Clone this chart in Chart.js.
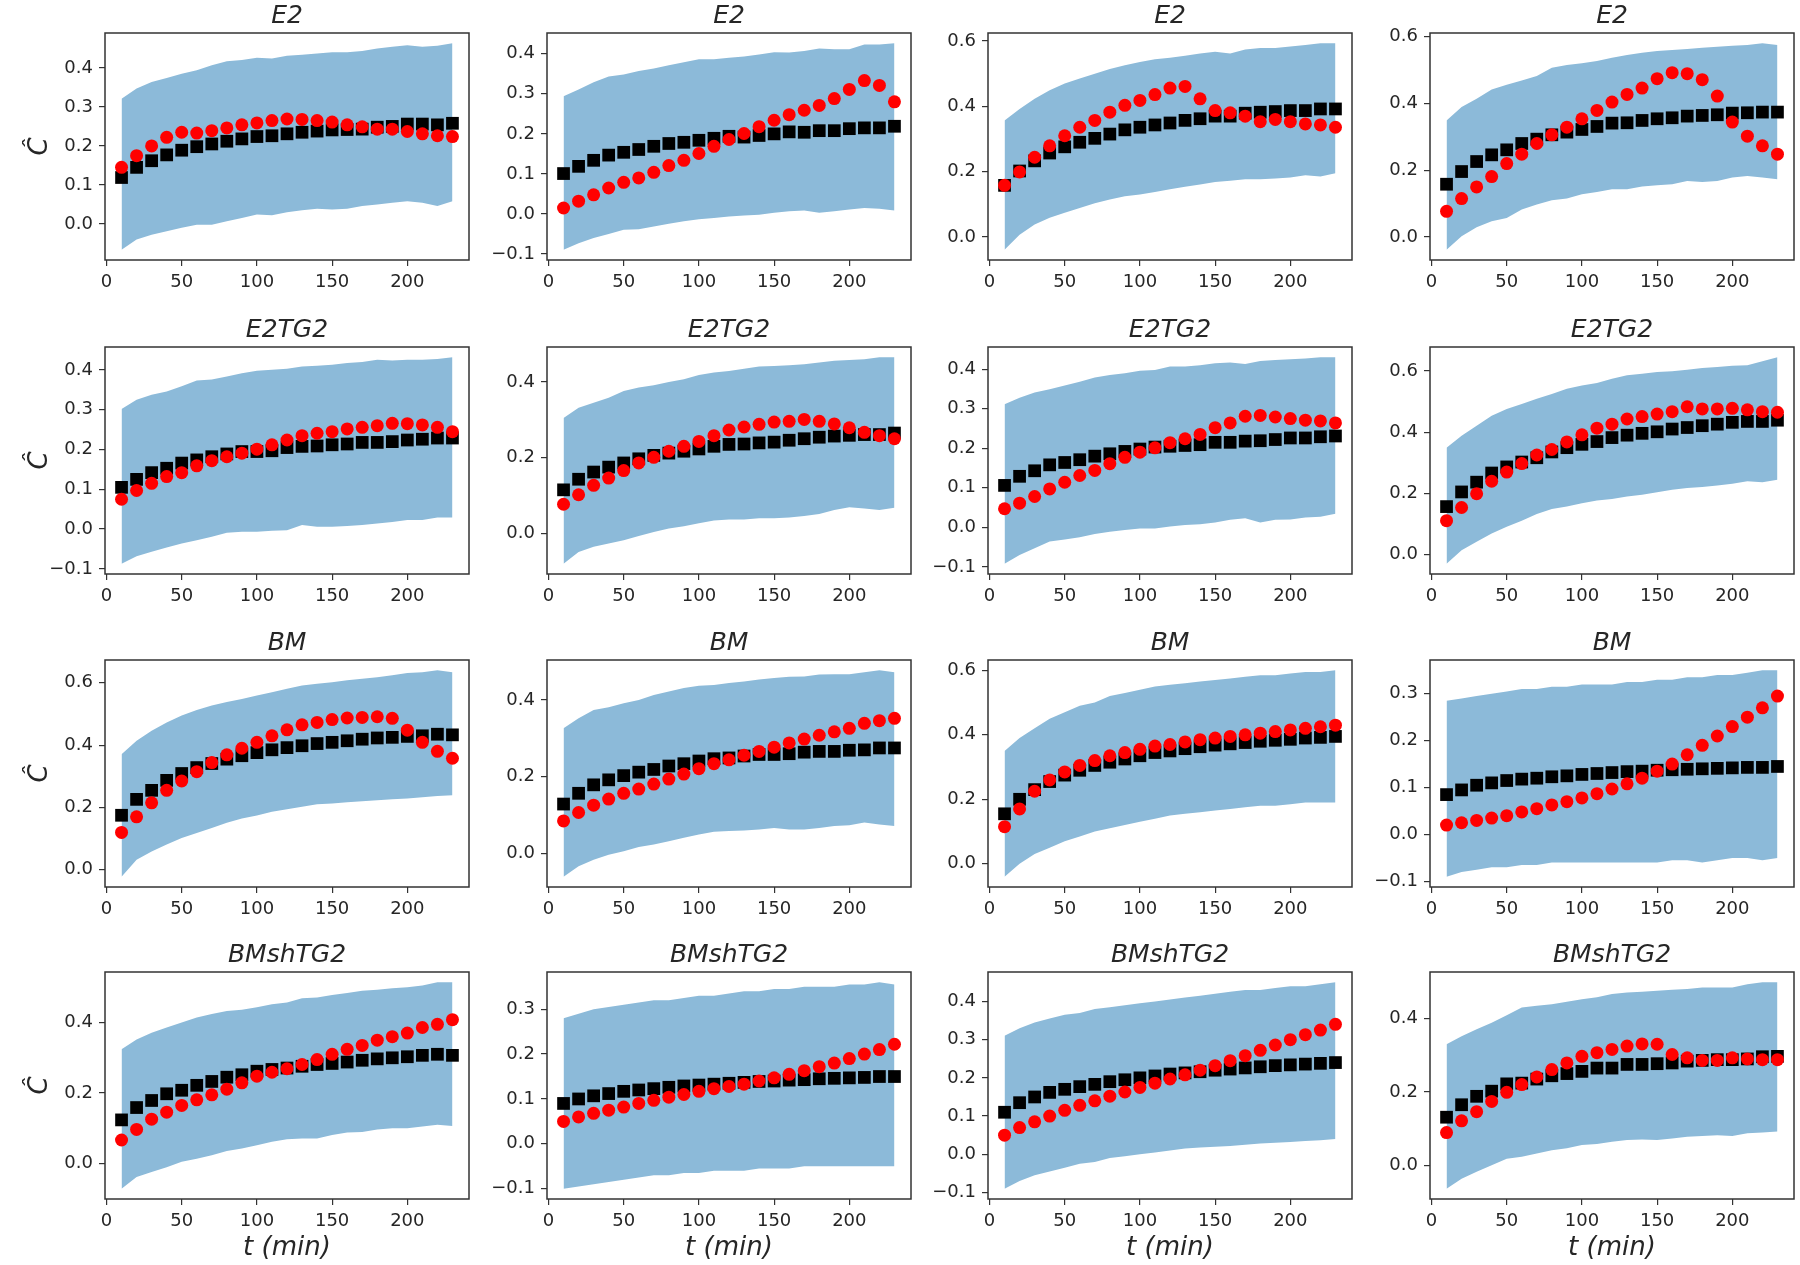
<!DOCTYPE html>
<html>
<head>
<meta charset="utf-8">
<script src="https://cdn.jsdelivr.net/npm/chart.js@4.4.1/dist/chart.umd.min.js"></script>
<style>
  body { margin: 0; background: #fff; width: 1800px; height: 1265px; position: relative; overflow: hidden; }
  canvas { position: absolute; }
</style>
</head>
<body>
<script>
const titles = ["E2", "E2", "E2", "E2", "E2TG2", "E2TG2", "E2TG2", "E2TG2",
  "BM", "BM", "BM", "BM", "BMshTG2", "BMshTG2", "BMshTG2", "BMshTG2"];

const tMin = [10, 20, 30, 40, 50, 60, 70, 80, 90, 100, 110, 120, 130, 140, 150, 160, 170, 180, 190, 200, 210, 220, 230];
const xTicks = [0, 50, 100, 150, 200];

const yTicks = [
  [0, 0.1, 0.2, 0.3, 0.4],
  [-0.1, 0, 0.1, 0.2, 0.3, 0.4],
  [0, 0.2, 0.4, 0.6],
  [0, 0.2, 0.4, 0.6],
  [-0.1, 0, 0.1, 0.2, 0.3, 0.4],
  [0, 0.2, 0.4],
  [-0.1, 0, 0.1, 0.2, 0.3, 0.4],
  [0, 0.2, 0.4, 0.6],
  [0, 0.2, 0.4, 0.6],
  [0, 0.2, 0.4],
  [0, 0.2, 0.4, 0.6],
  [-0.1, 0, 0.1, 0.2, 0.3],
  [0, 0.2, 0.4],
  [-0.1, 0, 0.1, 0.2, 0.3],
  [-0.1, 0, 0.1, 0.2, 0.3, 0.4],
  [0, 0.2, 0.4],
];

// upper edge of the shaded band
const bandHigh = [
  [0.321,0.347,0.364,0.374,0.385,0.394,0.407,0.417,0.420,0.426,0.424,0.431,0.434,0.437,0.440,0.440,0.443,0.450,0.454,0.458,0.454,0.457,0.463],
  [0.294,0.311,0.329,0.343,0.348,0.357,0.363,0.371,0.379,0.386,0.386,0.390,0.393,0.398,0.404,0.403,0.407,0.413,0.411,0.411,0.423,0.423,0.426],
  [0.357,0.392,0.423,0.449,0.470,0.485,0.500,0.514,0.526,0.536,0.544,0.549,0.555,0.562,0.567,0.562,0.574,0.579,0.579,0.583,0.588,0.593,0.593],
  [0.349,0.389,0.414,0.442,0.456,0.469,0.482,0.507,0.515,0.520,0.527,0.537,0.545,0.552,0.557,0.560,0.563,0.567,0.570,0.573,0.575,0.580,0.575],
  [0.302,0.325,0.338,0.346,0.359,0.374,0.376,0.384,0.392,0.398,0.401,0.403,0.409,0.411,0.413,0.418,0.420,0.426,0.424,0.426,0.426,0.428,0.432],
  [0.305,0.332,0.345,0.358,0.376,0.385,0.391,0.400,0.407,0.418,0.425,0.429,0.435,0.441,0.442,0.444,0.447,0.451,0.456,0.458,0.460,0.465,0.465],
  [0.311,0.328,0.341,0.349,0.359,0.368,0.379,0.385,0.390,0.396,0.398,0.407,0.407,0.410,0.415,0.417,0.413,0.421,0.423,0.425,0.427,0.430,0.430],
  [0.349,0.388,0.421,0.454,0.476,0.492,0.509,0.525,0.542,0.553,0.561,0.575,0.586,0.591,0.597,0.599,0.604,0.610,0.613,0.617,0.619,0.632,0.645],
  [0.371,0.414,0.446,0.473,0.495,0.513,0.527,0.538,0.548,0.559,0.570,0.581,0.591,0.597,0.602,0.608,0.613,0.618,0.624,0.631,0.634,0.640,0.634],
  [0.326,0.352,0.374,0.381,0.391,0.400,0.413,0.422,0.431,0.437,0.439,0.444,0.448,0.453,0.457,0.460,0.461,0.466,0.467,0.467,0.472,0.477,0.472],
  [0.350,0.390,0.420,0.450,0.470,0.490,0.500,0.520,0.530,0.540,0.550,0.555,0.560,0.565,0.570,0.575,0.580,0.585,0.585,0.590,0.595,0.595,0.600],
  [0.285,0.290,0.295,0.300,0.305,0.310,0.310,0.315,0.315,0.320,0.320,0.320,0.325,0.325,0.330,0.330,0.335,0.335,0.340,0.340,0.345,0.350,0.350],
  [0.324,0.352,0.371,0.386,0.400,0.414,0.424,0.433,0.436,0.443,0.452,0.457,0.469,0.471,0.478,0.484,0.490,0.493,0.497,0.500,0.505,0.514,0.514],
  [0.280,0.290,0.300,0.305,0.310,0.315,0.320,0.320,0.325,0.330,0.330,0.335,0.340,0.340,0.345,0.345,0.350,0.350,0.350,0.355,0.355,0.360,0.355],
  [0.310,0.330,0.345,0.355,0.365,0.370,0.380,0.385,0.390,0.395,0.400,0.405,0.410,0.415,0.420,0.425,0.430,0.430,0.435,0.440,0.440,0.445,0.450],
  [0.330,0.352,0.371,0.389,0.409,0.430,0.435,0.439,0.446,0.453,0.458,0.467,0.471,0.473,0.476,0.479,0.481,0.485,0.485,0.485,0.494,0.499,0.499],
];

// lower edge of the shaded band
const bandLow = [
  [-0.066,-0.040,-0.028,-0.019,-0.010,-0.002,-0.002,0.007,0.015,0.024,0.022,0.030,0.035,0.039,0.037,0.039,0.046,0.050,0.054,0.058,0.054,0.046,0.058],
  [-0.089,-0.073,-0.060,-0.050,-0.039,-0.038,-0.031,-0.024,-0.018,-0.013,-0.010,-0.006,-0.004,-0.002,0.003,0.007,0.009,0.003,0.007,0.011,0.015,0.013,0.009],
  [-0.039,0.007,0.038,0.059,0.074,0.089,0.103,0.115,0.125,0.130,0.138,0.146,0.154,0.161,0.168,0.172,0.177,0.177,0.179,0.182,0.189,0.185,0.195],
  [-0.038,0.002,0.029,0.047,0.057,0.082,0.097,0.110,0.115,0.128,0.135,0.143,0.143,0.151,0.155,0.158,0.168,0.165,0.168,0.178,0.183,0.178,0.173],
  [-0.087,-0.068,-0.057,-0.046,-0.036,-0.028,-0.019,-0.009,-0.007,-0.007,-0.004,-0.003,0.010,0.006,0.006,0.008,0.010,0.014,0.018,0.023,0.023,0.029,0.029],
  [-0.080,-0.049,-0.035,-0.027,-0.018,-0.007,0.004,0.013,0.019,0.027,0.034,0.037,0.037,0.040,0.040,0.042,0.046,0.051,0.062,0.069,0.066,0.062,0.068],
  [-0.092,-0.070,-0.053,-0.036,-0.031,-0.025,-0.017,-0.011,-0.007,-0.003,-0.003,0.002,0.006,0.008,0.012,0.019,0.023,0.012,0.019,0.020,0.025,0.027,0.034],
  [-0.031,0.013,0.041,0.068,0.090,0.110,0.132,0.148,0.156,0.167,0.176,0.181,0.189,0.195,0.203,0.211,0.217,0.220,0.225,0.231,0.239,0.236,0.244],
  [-0.022,0.032,0.059,0.081,0.102,0.118,0.134,0.151,0.165,0.174,0.186,0.194,0.202,0.210,0.213,0.217,0.220,0.223,0.226,0.229,0.233,0.237,0.239],
  [-0.060,-0.033,-0.016,-0.003,0.006,0.017,0.024,0.032,0.041,0.050,0.057,0.059,0.060,0.063,0.067,0.063,0.063,0.067,0.072,0.074,0.081,0.076,0.072],
  [-0.040,0.000,0.030,0.050,0.070,0.085,0.100,0.110,0.120,0.130,0.140,0.150,0.155,0.160,0.165,0.170,0.175,0.180,0.180,0.185,0.190,0.190,0.190],
  [-0.090,-0.080,-0.075,-0.070,-0.070,-0.065,-0.065,-0.060,-0.060,-0.060,-0.060,-0.060,-0.060,-0.060,-0.060,-0.055,-0.055,-0.060,-0.055,-0.050,-0.050,-0.055,-0.050],
  [-0.071,-0.038,-0.024,-0.010,0.005,0.014,0.024,0.036,0.043,0.052,0.062,0.069,0.071,0.071,0.081,0.088,0.090,0.097,0.100,0.100,0.105,0.110,0.107],
  [-0.100,-0.095,-0.090,-0.085,-0.080,-0.075,-0.070,-0.070,-0.065,-0.065,-0.060,-0.060,-0.060,-0.055,-0.055,-0.055,-0.050,-0.050,-0.050,-0.050,-0.050,-0.050,-0.050],
  [-0.090,-0.070,-0.055,-0.045,-0.035,-0.025,-0.020,-0.010,-0.005,0.000,0.005,0.010,0.015,0.018,0.020,0.022,0.025,0.028,0.030,0.032,0.035,0.037,0.040],
  [-0.064,-0.037,-0.018,0.000,0.018,0.023,0.032,0.041,0.046,0.055,0.058,0.064,0.069,0.070,0.069,0.073,0.078,0.080,0.082,0.080,0.087,0.089,0.092],
];

// black squares
const simMean = [
  [0.119,0.145,0.162,0.177,0.189,0.198,0.205,0.212,0.218,0.224,0.226,0.231,0.235,0.238,0.241,0.242,0.243,0.248,0.250,0.256,0.256,0.254,0.258],
  [0.101,0.119,0.134,0.147,0.154,0.161,0.169,0.176,0.179,0.184,0.189,0.194,0.192,0.196,0.200,0.205,0.204,0.208,0.208,0.213,0.215,0.215,0.219],
  [0.158,0.202,0.233,0.257,0.276,0.290,0.302,0.315,0.328,0.336,0.343,0.349,0.357,0.362,0.370,0.370,0.379,0.382,0.384,0.387,0.387,0.392,0.392],
  [0.158,0.196,0.226,0.246,0.261,0.280,0.293,0.306,0.314,0.322,0.331,0.341,0.342,0.349,0.354,0.357,0.362,0.364,0.366,0.371,0.372,0.374,0.374],
  [0.105,0.125,0.142,0.153,0.166,0.174,0.182,0.189,0.195,0.195,0.197,0.205,0.208,0.209,0.212,0.214,0.218,0.218,0.220,0.224,0.226,0.229,0.229],
  [0.115,0.143,0.162,0.175,0.186,0.197,0.206,0.212,0.217,0.223,0.230,0.235,0.236,0.239,0.241,0.246,0.250,0.254,0.257,0.259,0.261,0.261,0.265],
  [0.106,0.129,0.143,0.158,0.164,0.171,0.180,0.186,0.192,0.198,0.203,0.205,0.207,0.209,0.215,0.215,0.218,0.219,0.222,0.226,0.226,0.229,0.231],
  [0.156,0.204,0.236,0.266,0.286,0.302,0.316,0.335,0.349,0.360,0.369,0.382,0.390,0.396,0.401,0.410,0.415,0.421,0.426,0.432,0.435,0.435,0.439],
  [0.175,0.226,0.255,0.287,0.309,0.328,0.341,0.355,0.366,0.376,0.385,0.392,0.398,0.405,0.409,0.414,0.419,0.423,0.425,0.428,0.430,0.435,0.433],
  [0.129,0.157,0.179,0.192,0.203,0.212,0.219,0.228,0.234,0.241,0.247,0.249,0.254,0.258,0.258,0.260,0.264,0.266,0.266,0.269,0.270,0.275,0.275],
  [0.155,0.200,0.230,0.255,0.275,0.290,0.305,0.315,0.325,0.335,0.345,0.350,0.357,0.363,0.368,0.372,0.376,0.380,0.383,0.386,0.390,0.392,0.395],
  [0.085,0.095,0.105,0.110,0.115,0.118,0.120,0.123,0.125,0.128,0.130,0.132,0.134,0.135,0.137,0.138,0.139,0.140,0.141,0.142,0.143,0.143,0.145],
  [0.124,0.159,0.179,0.198,0.208,0.222,0.233,0.245,0.252,0.262,0.267,0.271,0.276,0.281,0.284,0.288,0.293,0.297,0.300,0.303,0.307,0.310,0.307],
  [0.090,0.100,0.107,0.112,0.117,0.120,0.123,0.126,0.129,0.131,0.133,0.135,0.137,0.139,0.140,0.142,0.143,0.145,0.146,0.147,0.148,0.150,0.150],
  [0.110,0.135,0.150,0.162,0.170,0.177,0.183,0.190,0.195,0.200,0.205,0.210,0.213,0.216,0.220,0.223,0.226,0.229,0.232,0.234,0.236,0.238,0.240],
  [0.131,0.165,0.188,0.202,0.222,0.224,0.235,0.244,0.250,0.256,0.265,0.265,0.275,0.275,0.277,0.279,0.284,0.286,0.288,0.288,0.290,0.296,0.297],
];

// red circles
const observed = [
  [0.145,0.175,0.200,0.222,0.235,0.233,0.239,0.246,0.254,0.259,0.265,0.269,0.268,0.265,0.261,0.254,0.249,0.243,0.243,0.237,0.231,0.226,0.224],
  [0.015,0.032,0.048,0.065,0.079,0.090,0.104,0.121,0.134,0.151,0.169,0.186,0.201,0.218,0.234,0.248,0.259,0.271,0.288,0.311,0.333,0.321,0.280],
  [0.158,0.199,0.244,0.279,0.310,0.336,0.357,0.382,0.403,0.418,0.436,0.456,0.461,0.423,0.387,0.380,0.370,0.353,0.360,0.353,0.346,0.343,0.336],
  [0.077,0.115,0.150,0.181,0.220,0.248,0.280,0.306,0.329,0.354,0.379,0.404,0.427,0.446,0.474,0.492,0.489,0.471,0.422,0.344,0.302,0.273,0.248],
  [0.075,0.097,0.115,0.132,0.142,0.159,0.172,0.182,0.191,0.201,0.212,0.224,0.235,0.241,0.245,0.252,0.256,0.260,0.266,0.265,0.262,0.256,0.245],
  [0.077,0.102,0.127,0.146,0.166,0.186,0.201,0.217,0.230,0.243,0.258,0.273,0.281,0.288,0.294,0.296,0.301,0.296,0.289,0.279,0.267,0.258,0.250],
  [0.047,0.061,0.078,0.097,0.114,0.131,0.144,0.161,0.177,0.190,0.201,0.214,0.224,0.235,0.252,0.264,0.281,0.283,0.279,0.275,0.271,0.269,0.264],
  [0.110,0.153,0.198,0.239,0.269,0.297,0.325,0.343,0.368,0.391,0.413,0.426,0.443,0.451,0.459,0.467,0.483,0.476,0.476,0.478,0.473,0.467,0.465],
  [0.120,0.170,0.215,0.255,0.285,0.315,0.344,0.369,0.390,0.409,0.430,0.449,0.465,0.473,0.482,0.487,0.489,0.491,0.486,0.448,0.409,0.380,0.358],
  [0.085,0.107,0.126,0.142,0.157,0.168,0.181,0.194,0.207,0.221,0.234,0.244,0.256,0.266,0.277,0.288,0.298,0.308,0.317,0.326,0.339,0.346,0.352],
  [0.115,0.170,0.225,0.260,0.285,0.305,0.320,0.335,0.345,0.355,0.365,0.370,0.378,0.385,0.390,0.395,0.400,0.405,0.410,0.415,0.420,0.425,0.430],
  [0.020,0.025,0.030,0.035,0.040,0.048,0.055,0.063,0.070,0.078,0.087,0.097,0.108,0.120,0.135,0.150,0.170,0.190,0.210,0.230,0.250,0.270,0.295],
  [0.067,0.097,0.126,0.146,0.165,0.181,0.195,0.211,0.229,0.248,0.259,0.269,0.281,0.295,0.310,0.324,0.335,0.350,0.360,0.370,0.386,0.395,0.408],
  [0.050,0.060,0.068,0.075,0.082,0.090,0.097,0.104,0.110,0.117,0.123,0.128,0.133,0.140,0.147,0.155,0.163,0.172,0.180,0.190,0.200,0.210,0.222],
  [0.050,0.070,0.085,0.100,0.115,0.128,0.140,0.152,0.163,0.175,0.186,0.197,0.208,0.220,0.232,0.245,0.258,0.272,0.286,0.300,0.313,0.325,0.340],
  [0.089,0.121,0.146,0.174,0.199,0.220,0.241,0.261,0.279,0.297,0.307,0.316,0.325,0.331,0.330,0.302,0.293,0.286,0.286,0.293,0.290,0.288,0.288],
];

// grid geometry (plot boxes)
const colLeft = [105, 547, 988, 1430];
const rowTop = [33, 347, 660, 972];
const plotW = 365, plotH = 227;
const axisW = 100, titleH = 40, padR = 8;

const ink = "#262626";
const band = "rgb(140,186,217)";

const frame = {
  id: "frame",
  afterDatasetsDraw(chart) {
    const a = chart.chartArea;
    const c = chart.ctx;
    c.save();
    c.strokeStyle = "#333";
    c.lineWidth = 1.5;
    c.strokeRect(a.left, a.top, a.right - a.left, a.bottom - a.top);
    c.restore();
  },
};

function pts(ys) {
  return tMin.map((t, k) => ({ x: t, y: ys[k] }));
}

function fmt(v) {
  return (v < -1e-9 ? "\u2212" : "") + Math.abs(v).toFixed(1);
}

for (let i = 0; i < 16; i++) {
  const r = Math.floor(i / 4);
  const c = i % 4;
  const xH = r === 3 ? 66 : 40;

  const cv = document.createElement("canvas");
  cv.width = axisW + plotW + padR;
  cv.height = titleH + plotH + xH;
  cv.style.left = (colLeft[c] - axisW) + "px";
  cv.style.top = (rowTop[r] - titleH) + "px";
  document.body.appendChild(cv);

  const all = bandHigh[i].concat(bandLow[i], simMean[i], observed[i]);
  const lo = Math.min(...all);
  const hi = Math.max(...all);
  const pad = (hi - lo) * 0.05;

  new Chart(cv, {
    type: "line",
    data: {
      datasets: [
        {
          label: "low",
          data: pts(bandLow[i]),
          borderWidth: 0,
          pointRadius: 0,
          fill: false,
          order: 3,
        },
        {
          label: "high",
          data: pts(bandHigh[i]),
          borderWidth: 0,
          pointRadius: 0,
          backgroundColor: band,
          fill: "-1",
          order: 2,
        },
        {
          label: "sim",
          data: pts(simMean[i]),
          showLine: false,
          pointStyle: "rect",
          pointRadius: 9,
          pointBackgroundColor: "#000",
          pointBorderWidth: 0,
          order: 1,
        },
        {
          label: "obs",
          data: pts(observed[i]),
          showLine: false,
          pointStyle: "circle",
          pointRadius: 6.5,
          pointBackgroundColor: "#ff0000",
          pointBorderWidth: 0,
          order: 0,
        },
      ],
    },
    options: {
      responsive: false,
      animation: false,
      devicePixelRatio: 1,
      layout: { padding: { left: 0, right: padR, top: 0, bottom: 0 } },
      plugins: {
        legend: { display: false },
        tooltip: { enabled: false },
        title: {
          display: true,
          text: titles[i],
          fullSize: false,
          color: ink,
          font: { family: "DejaVu Sans", size: 25, style: "italic", weight: "normal", lineHeight: 1.2 },
          padding: { top: 8, bottom: 2 },
        },
      },
      scales: {
        x: {
          type: "linear",
          min: -1,
          max: 241,
          afterBuildTicks: (ax) => { ax.ticks = xTicks.map((v) => ({ value: v })); },
          afterFit: (ax) => { ax.height = xH; },
          grid: { display: true, drawOnChartArea: false, drawTicks: true, tickLength: 6, color: "#333", lineWidth: 1.2 },
          border: { display: false },
          ticks: {
            color: ink,
            padding: 6,
            maxRotation: 0,
            font: { family: "DejaVu Sans", size: 18 },
            callback: (v) => String(v),
          },
          title: {
            display: r === 3,
            text: "t (min)",
            color: ink,
            font: { family: "DejaVu Sans", size: 26, style: "italic", lineHeight: 1.2 },
            padding: { top: 0, bottom: 1 },
          },
        },
        y: {
          type: "linear",
          min: lo - pad,
          max: hi + pad,
          afterBuildTicks: (ax) => { ax.ticks = yTicks[i].map((v) => ({ value: v })); },
          afterFit: (ax) => { ax.width = axisW; },
          grid: { display: true, drawOnChartArea: false, drawTicks: true, tickLength: 6, color: "#333", lineWidth: 1.2 },
          border: { display: false },
          ticks: {
            color: ink,
            padding: 6,
            font: { family: "DejaVu Sans", size: 18 },
            callback: (v) => fmt(v),
          },
          title: {
            display: c === 0,
            text: "\u0108",
            color: ink,
            font: { family: "DejaVu Sans", size: 26, style: "italic", lineHeight: 1.2 },
            padding: { top: 20, bottom: 0 },
          },
        },
      },
    },
    plugins: [frame],
  });
}
</script>
</body>
</html>
